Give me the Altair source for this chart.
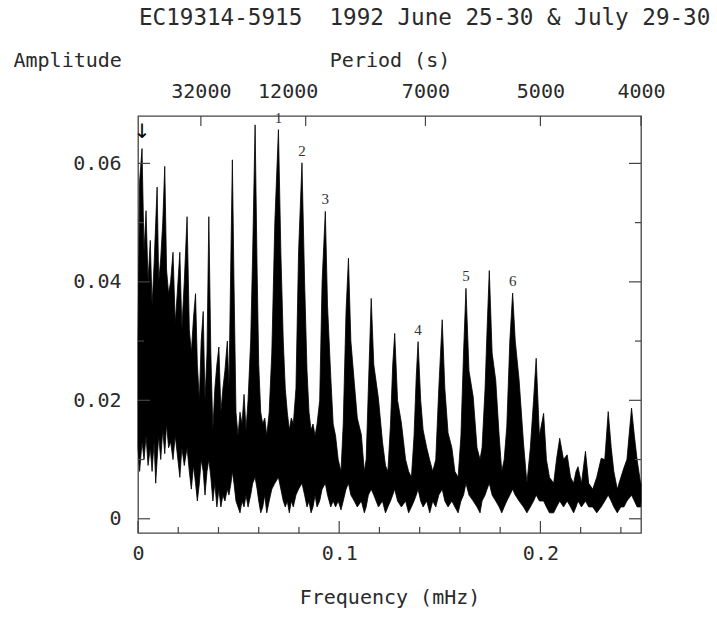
import altair as alt
import pandas as pd

# ---------------- data ----------------
freq = [0.0000, 0.0008, 0.0020, 0.0030, 0.0040, 0.0050, 0.0061, 0.0070, 0.0080, 0.0088,
        0.0095, 0.0103, 0.0113, 0.0123, 0.0133, 0.0142, 0.0152, 0.0162, 0.0174, 0.0185,
        0.0195, 0.0208, 0.0218, 0.0230, 0.0244, 0.0255, 0.0265, 0.0276, 0.0286, 0.0295,
        0.0305, 0.0314, 0.0324, 0.0333, 0.0343, 0.0352, 0.0362, 0.0372, 0.0382, 0.0392,
        0.0402, 0.0412, 0.0422, 0.0432, 0.0444, 0.0452, 0.0462, 0.0469, 0.0477, 0.0487,
        0.0497, 0.0507, 0.0517, 0.0527, 0.0537, 0.0547, 0.0560, 0.0570, 0.0582, 0.0592,
        0.0600, 0.0610, 0.0620, 0.0630, 0.0640, 0.0652, 0.0665, 0.0680, 0.0698, 0.0710,
        0.0722, 0.0732, 0.0742, 0.0752, 0.0762, 0.0772, 0.0785, 0.0798, 0.0815, 0.0828,
        0.0840, 0.0850, 0.0860, 0.0870, 0.0880, 0.0890, 0.0903, 0.0915, 0.0931, 0.0942,
        0.0958, 0.0970, 0.0982, 0.0995, 0.1009, 0.1020, 0.1034, 0.1046, 0.1058, 0.1075,
        0.1090, 0.1110, 0.1125, 0.1134, 0.1145, 0.1159, 0.1172, 0.1195, 0.1215, 0.1230,
        0.1242, 0.1255, 0.1266, 0.1276, 0.1290, 0.1309, 0.1330, 0.1345, 0.1359, 0.1372,
        0.1383, 0.1392, 0.1405, 0.1417, 0.1435, 0.1450, 0.1465, 0.1480, 0.1495, 0.1512,
        0.1525, 0.1541, 0.1560, 0.1575, 0.1591, 0.1605, 0.1618, 0.1630, 0.1645, 0.1666,
        0.1685, 0.1700, 0.1710, 0.1725, 0.1735, 0.1746, 0.1760, 0.1778, 0.1795, 0.1808,
        0.1820, 0.1833, 0.1848, 0.1862, 0.1875, 0.1894, 0.1916, 0.1933, 0.1950, 0.1966,
        0.1979, 0.1995, 0.2016, 0.2030, 0.2045, 0.2066, 0.2080, 0.2096, 0.2115, 0.2133,
        0.2150, 0.2165, 0.2177, 0.2187, 0.2204, 0.2224, 0.2240, 0.2260, 0.2280, 0.2302,
        0.2320, 0.2337, 0.2352, 0.2365, 0.2382, 0.2400, 0.2415, 0.2430, 0.2453, 0.2467,
        0.2481, 0.2498, 0.2500]

amp_hi = [0.0300, 0.0570, 0.0625, 0.0450, 0.0520, 0.0400, 0.0470, 0.0360, 0.0430, 0.0500,
          0.0560, 0.0400, 0.0440, 0.0500, 0.0595, 0.0420, 0.0380, 0.0400, 0.0450, 0.0330,
          0.0380, 0.0450, 0.0320, 0.0400, 0.0510, 0.0320, 0.0280, 0.0340, 0.0380, 0.0260,
          0.0200, 0.0300, 0.0350, 0.0200, 0.0280, 0.0510, 0.0280, 0.0150, 0.0220, 0.0260,
          0.0290, 0.0180, 0.0220, 0.0250, 0.0300, 0.0220, 0.0450, 0.0606, 0.0400, 0.0180,
          0.0140, 0.0180, 0.0160, 0.0210, 0.0150, 0.0200, 0.0300, 0.0450, 0.0665, 0.0420,
          0.0260, 0.0180, 0.0160, 0.0170, 0.0140, 0.0180, 0.0280, 0.0500, 0.0657, 0.0450,
          0.0300, 0.0220, 0.0180, 0.0150, 0.0170, 0.0160, 0.0220, 0.0450, 0.0601, 0.0400,
          0.0250, 0.0180, 0.0150, 0.0160, 0.0140, 0.0160, 0.0200, 0.0400, 0.0519, 0.0360,
          0.0240, 0.0160, 0.0140, 0.0100, 0.0080, 0.0160, 0.0350, 0.0440, 0.0300, 0.0230,
          0.0170, 0.0142, 0.0080, 0.0100, 0.0220, 0.0372, 0.0260, 0.0203, 0.0130, 0.0090,
          0.0080, 0.0160, 0.0260, 0.0313, 0.0200, 0.0162, 0.0100, 0.0080, 0.0070, 0.0140,
          0.0240, 0.0299, 0.0200, 0.0150, 0.0120, 0.0099, 0.0080, 0.0100, 0.0220, 0.0336,
          0.0220, 0.0145, 0.0120, 0.0080, 0.0070, 0.0140, 0.0280, 0.0389, 0.0250, 0.0206,
          0.0120, 0.0100, 0.0120, 0.0220, 0.0320, 0.0419, 0.0280, 0.0234, 0.0140, 0.0080,
          0.0100, 0.0156, 0.0300, 0.0381, 0.0300, 0.0235, 0.0128, 0.0060, 0.0120, 0.0200,
          0.0271, 0.0140, 0.0178, 0.0100, 0.0070, 0.0060, 0.0100, 0.0136, 0.0100, 0.0108,
          0.0070, 0.0060, 0.0080, 0.0088, 0.0060, 0.0114, 0.0060, 0.0050, 0.0070, 0.0102,
          0.0100, 0.0181, 0.0120, 0.0080, 0.0050, 0.0070, 0.0086, 0.0100, 0.0187, 0.0140,
          0.0099, 0.0060, 0.0060]

amp_lo = [0.0120, 0.0080, 0.0130, 0.0100, 0.0140, 0.0090, 0.0120, 0.0080, 0.0130, 0.0060,
          0.0100, 0.0140, 0.0100, 0.0150, 0.0110, 0.0160, 0.0120, 0.0130, 0.0100, 0.0140,
          0.0110, 0.0070, 0.0120, 0.0090, 0.0120, 0.0080, 0.0050, 0.0090, 0.0060, 0.0030,
          0.0060, 0.0100, 0.0080, 0.0040, 0.0080, 0.0100, 0.0070, 0.0030, 0.0060, 0.0020,
          0.0050, 0.0020, 0.0040, 0.0030, 0.0050, 0.0040, 0.0060, 0.0080, 0.0060, 0.0030,
          0.0020, 0.0010, 0.0030, 0.0020, 0.0040, 0.0020, 0.0040, 0.0060, 0.0070, 0.0050,
          0.0030, 0.0010, 0.0020, 0.0040, 0.0010, 0.0030, 0.0050, 0.0060, 0.0070, 0.0050,
          0.0030, 0.0020, 0.0030, 0.0010, 0.0030, 0.0020, 0.0040, 0.0050, 0.0060, 0.0040,
          0.0020, 0.0030, 0.0010, 0.0020, 0.0040, 0.0020, 0.0030, 0.0050, 0.0060, 0.0040,
          0.0020, 0.0030, 0.0020, 0.0030, 0.0015, 0.0030, 0.0050, 0.0060, 0.0040, 0.0030,
          0.0020, 0.0030, 0.0010, 0.0020, 0.0040, 0.0050, 0.0040, 0.0020, 0.0030, 0.0010,
          0.0020, 0.0030, 0.0040, 0.0050, 0.0030, 0.0020, 0.0030, 0.0010, 0.0020, 0.0030,
          0.0040, 0.0050, 0.0030, 0.0020, 0.0030, 0.0010, 0.0030, 0.0020, 0.0040, 0.0050,
          0.0030, 0.0020, 0.0030, 0.0020, 0.0010, 0.0030, 0.0040, 0.0060, 0.0040, 0.0030,
          0.0020, 0.0010, 0.0030, 0.0040, 0.0050, 0.0060, 0.0040, 0.0030, 0.0020, 0.0010,
          0.0020, 0.0030, 0.0040, 0.0050, 0.0040, 0.0030, 0.0020, 0.0010, 0.0020, 0.0030,
          0.0040, 0.0030, 0.0030, 0.0020, 0.0010, 0.0010, 0.0020, 0.0030, 0.0020, 0.0030,
          0.0020, 0.0010, 0.0020, 0.0030, 0.0020, 0.0030, 0.0020, 0.0020, 0.0010, 0.0020,
          0.0030, 0.0040, 0.0030, 0.0020, 0.0010, 0.0020, 0.0020, 0.0030, 0.0040, 0.0030,
          0.0020, 0.0020, 0.0030]

peak_labels = ["1", "2", "3", "4", "5", "6"]
peak_freq = [0.0698, 0.0815, 0.0931, 0.1392, 0.1630, 0.1862]
peak_amp = [0.0657, 0.0601, 0.0519, 0.0299, 0.0389, 0.0381]

arrow_freq = [0.0020]
arrow_amp = [0.0625]

period_ticks = [32000, 12000, 7000, 5000, 4000]      # seconds
y_major = [0.0, 0.02, 0.04, 0.06]
y_minor = [0.01, 0.03, 0.05]
x_major = [0.0, 0.1, 0.2]
x_minor = [0.02, 0.04, 0.06, 0.08, 0.12, 0.14, 0.16, 0.18, 0.22, 0.24]

title_text = "EC19314-5915\u00a0\u00a01992 June 25-30 & July 29-30"

# ---------------- chart ----------------
W, H = 503, 417
FONT = "DejaVu Sans Mono"
INK = "#2a2a2a"
FRAME = "#444444"

xscale = alt.Scale(domain=[0, 0.25], nice=False, zero=False)
yscale = alt.Scale(domain=[-0.0024, 0.068], nice=False, zero=False)

spec_df = pd.DataFrame({"freq": freq, "hi": amp_hi, "lo": amp_lo})

spectrum = alt.Chart(spec_df).mark_area(
    color="black", stroke="black", strokeWidth=0.8, interpolate="linear"
).encode(
    x=alt.X("freq:Q", scale=xscale, axis=alt.Axis(
        orient="bottom", values=x_major, ticks=False, tickSize=0, domain=False, grid=False,
        labelExpr="datum.value == 0 ? '0' : format(datum.value, '.1f')",
        labelPadding=10, labelFlush=False, labelOverlap=False,
        title="Frequency (mHz)", titleY=70, titleBaseline="alphabetic")),
    y=alt.Y("hi:Q", scale=yscale, axis=alt.Axis(
        orient="left", values=y_major, ticks=False, tickSize=0, domain=False, grid=False,
        labelExpr="datum.value == 0 ? '0' : format(datum.value, '.2f')",
        labelPadding=17, labelBaseline="middle", labelOverlap=False,
        title="Amplitude", titleAngle=0, titleAlign="left", titleBaseline="alphabetic",
        titleX=-125, titleY=-50)),
    y2="lo:Q",
)

top_vals = [1000.0 / p for p in period_ticks]
top_ticks = alt.Chart(pd.DataFrame({"period": period_ticks})).transform_calculate(
    f="1000 / datum.period"
).mark_rule(color=FRAME, strokeWidth=1.2).encode(
    x=alt.X("f:Q", scale=xscale, axis=alt.Axis(
        orient="top", values=top_vals, ticks=False, tickSize=0, domain=False, grid=False,
        labelExpr="format(1000 / datum.value, '.0f')",
        labelPadding=19, labelBaseline="alphabetic", labelFlush=False, labelOverlap=False,
        labelOffset={"condition": {"test": "datum.value > 0.08 && datum.value < 0.09",
                                   "value": -18}, "value": 0},
        title="Period (s)", titleY=-50, titleBaseline="alphabetic")),
    y=alt.value(0), y2=alt.value(10),
)


def yticks(vals, x0, x1):
    return alt.Chart(pd.DataFrame({"v": vals})).mark_rule(color=FRAME, strokeWidth=1.2).encode(
        y=alt.Y("v:Q", scale=yscale, axis=None), x=alt.value(x0), x2=alt.value(x1))


def xticks(vals, y0, y1):
    return alt.Chart(pd.DataFrame({"v": vals})).mark_rule(color=FRAME, strokeWidth=1.2).encode(
        x=alt.X("v:Q", scale=xscale, axis=None), y=alt.value(y0), y2=alt.value(y1))


tick_layers = [
    yticks(y_major, 0, 12), yticks(y_minor, 0, 6),
    yticks(y_major, W, W - 12), yticks(y_minor, W, W - 6),
    xticks(x_major, H, H - 12), xticks(x_minor, H, H - 6),
]

labels = alt.Chart(pd.DataFrame({"lab": peak_labels, "f": peak_freq, "a": peak_amp})).mark_text(
    font="Liberation Serif", fontSize=15, color="#333333", baseline="middle", dy=-12
).encode(
    x=alt.X("f:Q", scale=xscale, axis=None),
    y=alt.Y("a:Q", scale=yscale, axis=None),
    text="lab:N",
)

arrow = alt.Chart(pd.DataFrame({"f": arrow_freq, "a": arrow_amp})).mark_text(
    text="\u2193", font="DejaVu Sans", fontSize=20, color="black", baseline="middle", dy=-17
).encode(
    x=alt.X("f:Q", scale=xscale, axis=None),
    y=alt.Y("a:Q", scale=yscale, axis=None),
)

title = alt.Chart(pd.DataFrame({"t": [title_text]})).mark_text(
    align="left", baseline="alphabetic", font=FONT, fontSize=22.6, color=INK
).encode(x=alt.value(1), y=alt.value(-91), text="t:N")

chart = alt.layer(
    spectrum, top_ticks, *tick_layers, labels, arrow, title
).resolve_axis(x="independent", y="independent").properties(
    width=W, height=H,
    autosize=alt.AutoSizeParams(type="none"),
    padding={"left": 138, "top": 116, "right": 76, "bottom": 86},
    background="white",
).configure_view(
    stroke=FRAME, strokeWidth=1.3
).configure_axis(
    labelFont=FONT, labelFontSize=20, labelColor=INK,
    titleFont=FONT, titleFontSize=20, titleColor=INK, titleFontWeight="normal",
)

chart.save("out.html", embed_options={"renderer": "svg", "actions": False})
